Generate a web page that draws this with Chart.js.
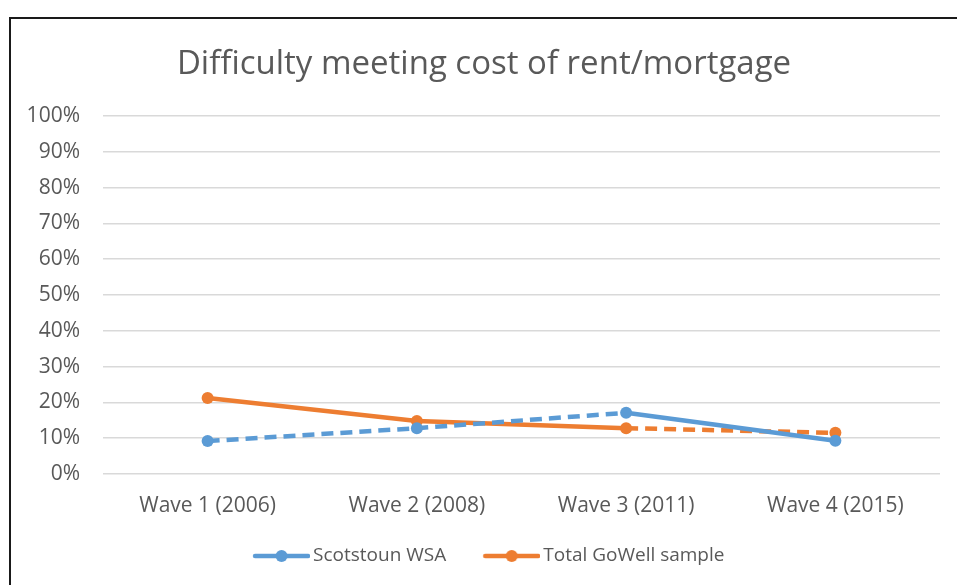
<!DOCTYPE html>
<html lang="en">
<head>
<meta charset="UTF-8" />
<title>Difficulty meeting cost of rent/mortgage</title>
<script src="https://cdn.jsdelivr.net/npm/chart.js"></script>
<style>
    html, body {
        margin: 0;
        width: 957px;
        height: 585px;
        overflow: hidden;
        background: #fff;
    }
    .frame {
        position: absolute;
        left: 9px;
        top: 17px;
        width: 960px;
        height: 580px;
        border-left: 2px solid #1a1a1a;
        border-top: 2px solid #1a1a1a;
    }
    .frame canvas {
        position: absolute;
        left: 0;
        top: 0;
    }
</style>
</head>
<body>
<div class="frame">
    <canvas id="chart" width="946" height="566" style="width:946px;height:566px"></canvas>
</div>
<script>
const waves = ["Wave 1 (2006)", "Wave 2 (2008)", "Wave 3 (2011)", "Wave 4 (2015)"];
const scotstoun = [9.2, 12.8, 17.1, 9.3];
const gowell = [21.2, 14.8, 12.8, 11.5];

const blue = "#5B9BD5";
const orange = "#ED7D31";
const grey = "#595959";
const font = "Open Sans";

// legend marker: a short line with a dot in the middle
// (image is wider than the legend box so the line sits right next to the text)
function legendMarker(color) {
    const c = document.createElement("canvas");
    c.width = 73;
    c.height = 14;
    const g = c.getContext("2d");
    g.strokeStyle = color;
    g.lineWidth = 4.5;
    g.lineCap = "round";
    g.beginPath();
    g.moveTo(18, 7);
    g.lineTo(71, 7);
    g.stroke();
    g.fillStyle = color;
    g.beginPath();
    g.arc(44.5, 7, 6, 0, Math.PI * 2);
    g.fill();
    return c;
}
const markers = [legendMarker(blue), legendMarker(orange)];

new Chart(document.getElementById("chart"), {
    type: "line",
    data: {
        labels: waves,
        datasets: [
            {
                label: "Scotstoun WSA",
                data: scotstoun,
                borderColor: blue,
                backgroundColor: blue,
                borderWidth: 4.5,
                pointRadius: 6,
                pointBorderWidth: 0,
                pointHoverRadius: 6,
                tension: 0,
                // dashed up to wave 3, solid after
                segment: {
                    borderDash: (ctx) => (ctx.p0DataIndex < 2 ? [12, 7] : []),
                },
            },
            {
                label: "Total GoWell sample",
                data: gowell,
                borderColor: orange,
                backgroundColor: orange,
                borderWidth: 4.5,
                pointRadius: 6,
                pointBorderWidth: 0,
                pointHoverRadius: 6,
                tension: 0,
                // solid up to wave 3, dashed after
                segment: {
                    borderDash: (ctx) => (ctx.p0DataIndex >= 2 ? [12, 7] : []),
                },
            },
        ],
    },
    options: {
        responsive: false,
        animation: false,
        layout: {
            padding: { left: 17, right: 17, top: 0, bottom: 9.5 },
        },
        plugins: {
            title: {
                display: true,
                text: "Difficulty meeting cost of rent/mortgage",
                color: grey,
                font: { family: font, size: 33, weight: "normal" },
                padding: { top: 26, bottom: 31.4 },
            },
            legend: {
                position: "bottom",
                labels: {
                    color: grey,
                    font: { family: font, size: 19 },
                    usePointStyle: true,
                    pointStyleWidth: 60,
                    padding: 27.5,
                    generateLabels: (chart) =>
                        Chart.defaults.plugins.legend.labels
                            .generateLabels(chart)
                            .map((item, i) => ({ ...item, pointStyle: markers[i], lineDash: [] })),
                },
            },
            tooltip: { enabled: false },
        },
        scales: {
            x: {
                offset: true,
                grid: { display: false, drawTicks: false },
                border: { display: false },
                ticks: {
                    color: grey,
                    font: { family: font, size: 21 },
                    padding: 19.4,
                },
                afterFit: (scale) => {
                    scale.height = 45;
                },
            },
            y: {
                min: 0,
                max: 100,
                border: { display: false },
                grid: { color: "#d9d9d9", lineWidth: 1.5, drawTicks: false },
                ticks: {
                    stepSize: 10,
                    color: grey,
                    font: { family: font, size: 21 },
                    padding: 23,
                    callback: (v) => v + "%",
                },
                afterFit: (scale) => {
                    scale.width = 75;
                },
            },
        },
    },
});
</script>
</body>
</html>
